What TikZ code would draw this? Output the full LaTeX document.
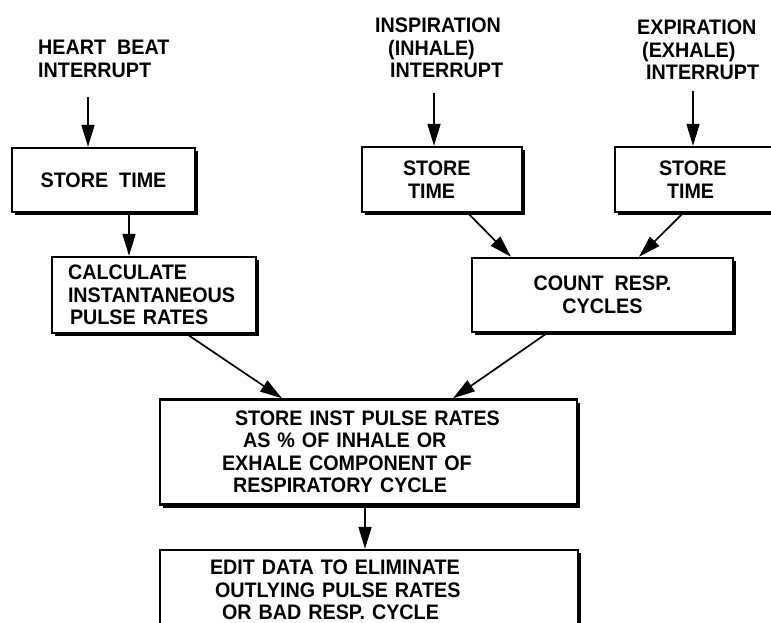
\documentclass[tikz,border=0pt]{standalone}
\usepackage{fontspec}
\setmainfont{Liberation Sans}[FakeStretch=0.94]
\usetikzlibrary{arrows.meta,shadows}
\newcommand\letterfont{\bfseries\fontsize{21}{22.5}\selectfont\fontdimen2\font=11pt\relax}
\tikzset{
  lettering/.style={font=\letterfont},
  box/.style={draw, line width=2.4pt, fill=white, lettering, inner sep=0pt,
    drop shadow={shadow xshift=3.2pt, shadow yshift=-3.2pt, opacity=1, fill=black}},
  lbl/.style={inner sep=0pt, align=left, anchor=north west, lettering},
  arr/.style={line width=1.7pt, -{Triangle[length=22pt,width=13pt]}},
}
\begin{document}
\begin{tikzpicture}[x=1pt,y=-1pt]
\useasboundingbox (0,0) rectangle (771,623);
\clip (0,0) rectangle (771,623);
\fill[white] (0,0) rectangle (771,623);

% headers
\node[lbl] (hb) at (38,40) {HEART BEAT\\INTERRUPT};
\node[lbl] (insp) at (375,18) {INSPIRATION\\\hspace*{13pt}(INHALE)\\\hspace*{15pt}INTERRUPT};
\node[lbl] (expi) at (637,20) {EXPIRATION\\\hspace*{5pt}(EXHALE)\\\hspace*{9pt}INTERRUPT};

\coordinate (hs) at (88,97);
\coordinate (is) at (434,93);
\coordinate (es) at (693,91);

% boxes
\node[box, minimum width=183pt, minimum height=64pt] (b1) at (103.5,180) {STORE TIME};
\node[box, minimum width=204pt, minimum height=76pt, text width=172pt, align=left] (calc) at (154,295)
  {CALCULATE\\INSTANTANEOUS\\\hspace*{2pt}PULSE RATES};
\node[box, minimum width=160pt, minimum height=65pt, text width=78pt, align=left] (b3) at (442,179.5)
  {STORE\\\hspace*{5pt}TIME};
\node[box, minimum width=160pt, minimum height=65pt, text width=72pt, align=left] (b4) at (695,179.5)
  {STORE\\\hspace*{8pt}TIME};
\node[box, minimum width=261pt, minimum height=74pt, align=center] (cnt) at (602.5,295)
  {COUNT RESP.\\CYCLES};
\node[box, minimum width=417pt, minimum height=105pt, text width=293pt, align=left] (inst) at (368.5,452)
  {\hspace*{13pt}STORE INST PULSE RATES\\\hspace*{21pt}AS \% OF INHALE OR\\EXHALE COMPONENT OF\\\hspace*{11pt}RESPIRATORY CYCLE};
\node[box, minimum width=418pt, minimum height=80pt, text width=318pt, align=left] (edit) at (369,590)
  {EDIT DATA TO ELIMINATE\\\hspace*{5pt}OUTLYING PULSE RATES\\\hspace*{12pt}OR BAD RESP. CYCLE};

% connectors
\draw[arr] (hs) -- (hs |- b1.north);
\draw[arr] (is) -- (is |- b3.north);
\draw[arr] (es) -- (es |- b4.north);
\draw[arr] ([xshift=25.5pt]b1.south) -- ([xshift=25.5pt]b1.south |- calc.north);
\draw[arr] ([xshift=26pt]b3.south) -- ([xshift=-91.5pt]cnt.north);
\draw[arr] ([xshift=-12pt]b4.south) -- ([xshift=36.5pt]cnt.north);
\draw[arr] ([xshift=33pt]calc.south) -- ([xshift=-86.5pt]inst.north);
\draw[arr] ([xshift=-55.5pt]cnt.south) -- ([xshift=84.5pt]inst.north);
\draw[arr] ([xshift=-3.5pt]inst.south) -- ([xshift=-3.5pt]inst.south |- edit.north);
\end{tikzpicture}
\end{document}
